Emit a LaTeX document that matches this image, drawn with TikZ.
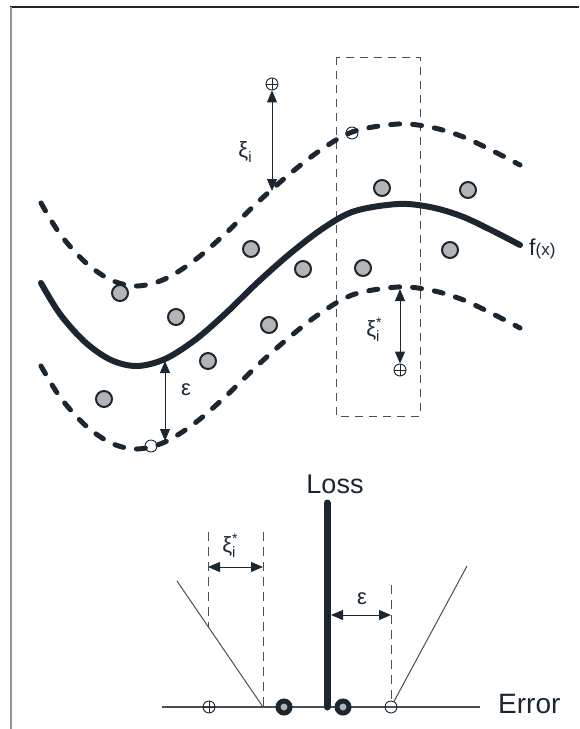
\documentclass[tikz,border=0pt]{standalone}
\usepackage{fontspec}
\setmainfont{Liberation Sans}
\usetikzlibrary{arrows.meta}
\definecolor{ink}{HTML}{1B2631}
\definecolor{lgray}{HTML}{4A4F55}
\definecolor{dotgray}{HTML}{B4B4B4}
\newcommand\xiist{{\fontsize{22}{22}\selectfont ξ}\rlap{\raisebox{-5pt}{\fontsize{15}{15}\selectfont i}}\raisebox{9pt}{\fontsize{14}{14}\selectfont *}}
\newcommand\xii{{\fontsize{22}{22}\selectfont ξ}\raisebox{-5pt}{\fontsize{15}{15}\selectfont i}}
\begin{document}
\begin{tikzpicture}[x=1pt,y=-1pt,
  fcurve/.style={line width=6pt, line cap=round, color=ink},
  band/.style={line width=5pt, dash pattern=on 9pt off 13pt, line cap=round, color=ink},
  gdot/.style={circle, draw=ink, line width=2pt, fill=dotgray, minimum size=16pt, inner sep=0pt},
  opl/.style={circle, draw=ink, line width=0.9pt, minimum size=12pt, inner sep=0pt,
    path picture={\draw[ink,line width=0.9pt] (path picture bounding box.north)--(path picture bounding box.south) (path picture bounding box.west)--(path picture bounding box.east);}},
  ocirc/.style={circle, draw=ink, line width=0.9pt, minimum size=12pt, inner sep=0pt},
  ring/.style={circle, draw=ink, line width=5pt, fill=dotgray, minimum size=12pt, inner sep=0pt},
  dim/.style={draw=lgray, line width=1pt, {Triangle[length=12pt,width=10pt]}-{Triangle[length=12pt,width=10pt]}, color=ink},
  guide/.style={draw=lgray, line width=1pt, dash pattern=on 9pt off 6pt},
  thinline/.style={draw=lgray, line width=1pt},
  lbl/.style={text=ink, inner sep=0pt}
]
\useasboundingbox (0,0) rectangle (579,729);
% frame
\draw[ink, line width=1.5pt] (10,7) -- (579,7);
\draw[gray!85, line width=2pt] (11,7) -- (11,729);
% dashed window
\draw[lgray, line width=1pt, dash pattern=on 8pt off 6pt] (336,57) rectangle (420,416);
% f(x)
\draw[fcurve] plot[smooth,tension=0.55] coordinates {(41,283) (60,314) (85,342) (111,360) (137,366) (165,359) (195,340) (225,314) (258,282) (292,252) (325,227) (355,211) (398,204) (430,207) (461,216) (491,230) (520,245)};
% upper band
\begin{scope}[yshift=80pt]
\draw[band] plot[smooth,tension=0.55] coordinates {(41,283) (60,314) (85,342) (111,360) (137,366) (165,359) (195,340) (225,314) (258,282) (292,252) (325,227) (355,211) (398,204) (430,207) (461,216) (491,230) (520,245)};
\end{scope}
% lower band
\begin{scope}[yshift=-83pt]
\draw[band] plot[smooth,tension=0.55] coordinates {(41,283) (60,314) (85,342) (111,360) (137,366) (165,359) (195,340) (225,314) (258,282) (292,252) (325,227) (355,211) (398,204) (430,207) (461,216) (491,230) (520,245)};
\end{scope}
% data points
\node[gdot] (d1) at (382,188) {};
\node[gdot] (d2) at (468,190) {};
\node[gdot] (d3) at (251,249) {};
\node[gdot] (d4) at (450,250) {};
\node[gdot] (d5) at (303,269) {};
\node[gdot] (d6) at (363,268) {};
\node[gdot] (d7) at (120,293) {};
\node[gdot] (d8) at (176,317) {};
\node[gdot] (d9) at (269,325) {};
\node[gdot] (d10) at (208,361) {};
\node[gdot] (d11) at (104,399) {};
% support vector circles on bands
\node[ocirc] (oc0) at (352,133) {};
\node[ocirc] (oc1) at (151,446) {};
% xi_i arrow
\node[opl] (op1) at (272,84) {};
\coordinate (ua) at (272,191);
\draw[dim] (op1.south) -- (ua);
\node[lbl] (xi1) at (245,152) {\xii};
% epsilon arrow
\coordinate (ea1) at (165,361);
\coordinate (ea2) at (165,441);
\draw[dim] (ea1) -- (ea2);
\node[lbl, font=\fontsize{22}{22}\selectfont] (eps1) at (186,390) {ε};
% xi_i^* arrow
\coordinate (la) at (400,289);
\node[opl] (op2) at (400,370) {};
\draw[dim] (la) -- (op2.north);
\node[lbl] (xi2) at (374,330) {\xiist};
% f(x) label
\node[lbl, anchor=base west] (fx) at (529,255) {{\fontsize{23}{23}\selectfont f}{\fontsize{17}{17}\selectfont (x)}};
% ---- loss function ----
\coordinate (ea) at (162,707);
\coordinate (eb) at (480,707);
\draw[lgray, line width=1.2pt] (ea) -- (eb);
\node[lbl, anchor=base west, font=\fontsize{28}{28}\selectfont] (err) at (498,713) {Error};
\node[lbl, anchor=base, font=\fontsize{27}{27}\selectfont] (loss) at (335,493) {Loss};
\coordinate (ltop) at (327,503);
\coordinate (lbot) at (327,707);
\draw[ink, line width=7pt, line cap=round] (ltop) -- (lbot);
% left V arm
\coordinate (lv1) at (177,581);
\coordinate (lv2) at (263,707);
\draw[thinline] (lv1) -- (lv2);
% right V arm
\node[ocirc] (oc2) at (391,707) {};
\coordinate (rv2) at (467,566);
\draw[thinline] (oc2) -- (rv2);
% guides
\coordinate (g1a) at (208,532);
\coordinate (g1b) at (208,627);
\coordinate (g2a) at (263,532);
\coordinate (g3a) at (391,585);
\draw[guide] (g1a) -- (g1b);
\draw[guide] (g2a) -- (lv2);
\draw[guide] (g3a) -- (oc2.north);
% dimension arrows
\coordinate (b1) at (208,567);
\coordinate (b2) at (263,567);
\draw[dim] (b1) -- (b2);
\node[lbl] (xi3) at (230,546) {\xiist};
\coordinate (c1) at (331,615);
\coordinate (c2) at (391,615);
\draw[dim] (c1) -- (c2);
\node[lbl, font=\fontsize{22}{22}\selectfont] (eps2) at (362,599) {ε};
% points on error axis
\node[opl] (op3) at (209,707) {};
\node[ring] (r1) at (284,707) {};
\node[ring] (r2) at (343,707) {};
\end{tikzpicture}
\end{document}
